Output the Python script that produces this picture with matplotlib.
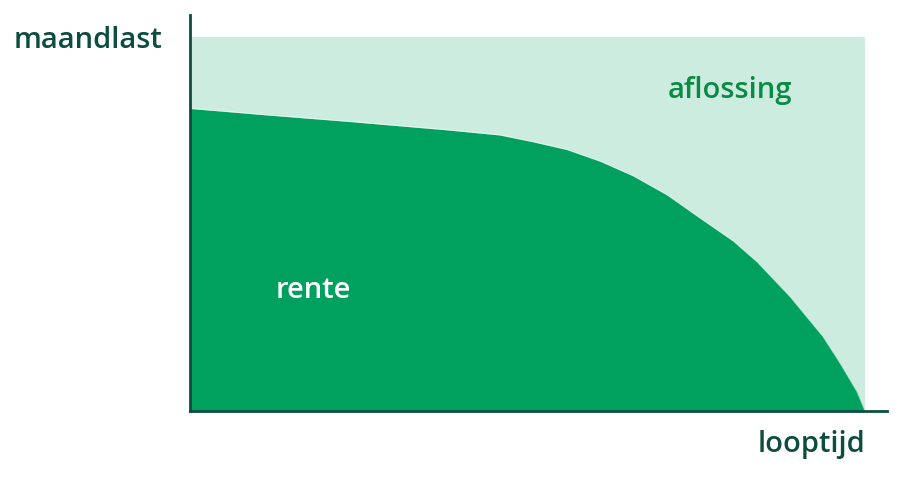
import matplotlib.pyplot as plt
import numpy as np

# looptijd (maanden) en aandeel rente in de maandlast (%)
looptijd = [0, 42.7, 85.3, 138.7, 165.3, 182.9, 201.1, 218.7, 236.3, 254.4,
            272, 289.6, 302.4, 320, 337.6, 346.7, 355.7, 360]
rente = [80.9, 79.1, 77.4, 75.1, 73.8, 72.0, 69.9, 66.8, 62.9, 57.8,
         51.6, 45.5, 39.9, 30.6, 19.9, 12.8, 5.2, 0.0]
maandlast = 100.0

dark = '#00a05f'
light = '#cdece0'
axis_col = '#0d4d40'
label_green = '#0b8a45'

plt.rcParams['font.family'] = ['Open Sans', 'DejaVu Sans']

W, H = 900, 488
fig = plt.figure(figsize=(W / 100, H / 100), dpi=100)
# axes area: x 190..887 px, y 15..411 px
ax = fig.add_axes([190 / W, (H - 411) / H, (887 - 190) / W, (411 - 15) / H])

x = np.array(looptijd)
y = np.array(rente)

ax.fill_between([x[0], x[-1]], 0, maandlast, color=light, lw=0)
ax.fill_between(x, 0, y, color=dark, lw=0)
ax.plot(x, y, color='white', lw=0.8, alpha=0.5)

ax.set_xlim(0, 360 * (887 - 190) / (865 - 190))
ax.set_ylim(0, 100 * (411 - 15) / (411 - 37))

for s in ['top', 'right']:
    ax.spines[s].set_visible(False)
for s in ['left', 'bottom']:
    ax.spines[s].set_color(axis_col)
    ax.spines[s].set_linewidth(2)
ax.set_xticks([])
ax.set_yticks([])
ax.patch.set_alpha(0)


def label(px, py, txt, col, ha='left'):
    fig.text(px / W, 1 - py / H, txt, fontsize=21, fontweight='semibold',
             color=col, ha=ha, va='baseline')


label(14, 48, 'maandlast', axis_col)
label(865, 452, 'looptijd', axis_col, ha='right')
label(668, 98, 'aflossing', label_green)
label(276, 298, 'rente', 'white')

fig.savefig('out.png', dpi=100)
